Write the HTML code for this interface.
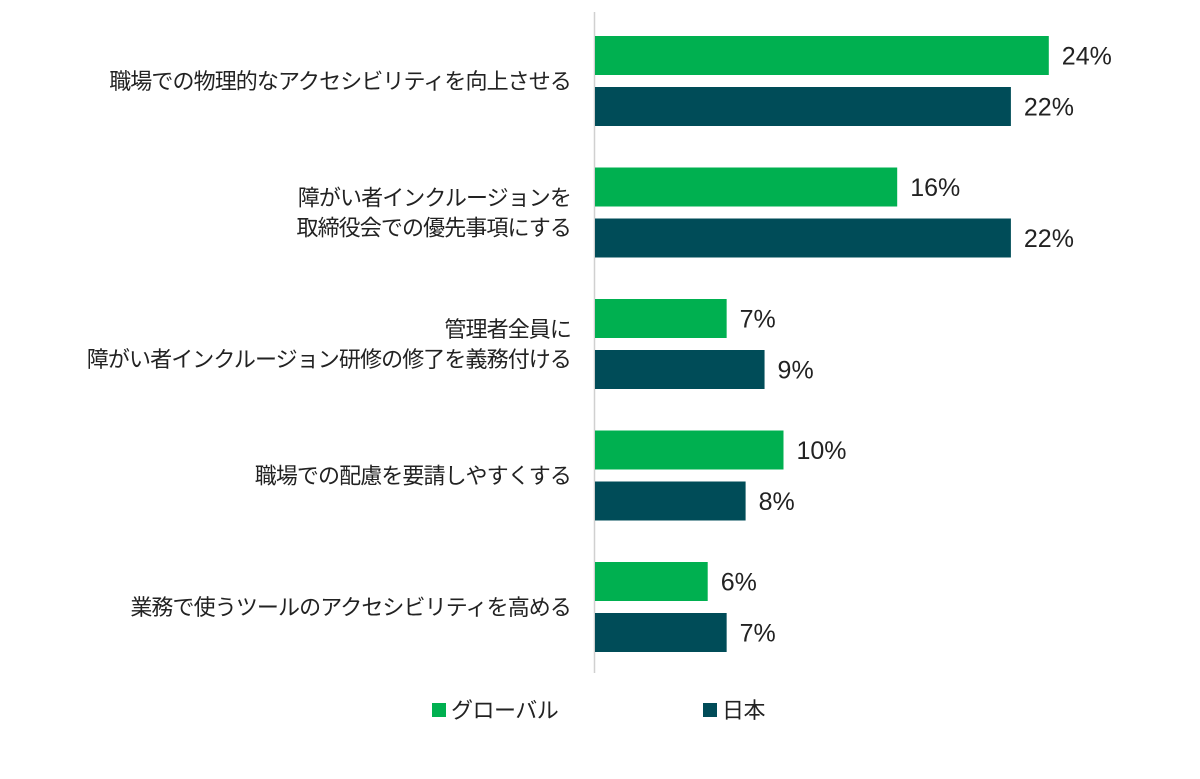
<!DOCTYPE html>
<html><head><meta charset="utf-8"><style>
body{margin:0;background:#fff;}
svg{display:block;font-family:"Liberation Sans","Noto Sans CJK JP",sans-serif;}
</style></head><body>
<svg id="chart" width="1200" height="779">
<line x1="594.5" y1="12" x2="594.5" y2="673" stroke="#d0d0d0" stroke-width="1.5"/>
<g id="bars"></g>
<g>
<rect x="432" y="703" width="14" height="14" fill="#00b050"/>
<text x="451" y="718" font-size="22" letter-spacing="-0.5" fill="#222">グローバル</text>
<rect x="703" y="703" width="14" height="14" fill="#004c58"/>
<text x="722" y="718" font-size="22" letter-spacing="-0.5" fill="#222">日本</text>
</g>
</svg>
<script>
const categories=[["職場での物理的なアクセシビリティを向上させる"],["障がい者インクルージョンを","取締役会での優先事項にする"],["管理者全員に","障がい者インクルージョン研修の修了を義務付ける"],["職場での配慮を要請しやすくする"],["業務で使うツールのアクセシビリティを高める"]];
const globalValues=[24,16,7,10,6];
const japanValues=[22,22,9,8,7];
const x0=594,scale=18.95,groupTop=36,groupStep=131.5,barH=39,gap=51;
const xs=v=>x0+v*scale;
const g=document.getElementById('bars');
const NS='http://www.w3.org/2000/svg';
function mk(t,a){const e=document.createElementNS(NS,t);for(const k in a)e.setAttribute(k,a[k]);return e;}
categories.forEach((lines,i)=>{
  const top=groupTop+i*groupStep;
  [[globalValues[i],'#00b050','global'],[japanValues[i],'#004c58','japan']].forEach(([v,c,s],j)=>{
    const y=top+j*gap;
    const r=mk('rect',{x:x0+1,y:y,width:xs(v)-x0-1,height:barH,fill:c});
    
    
    g.appendChild(r);
    const t=mk('text',{x:xs(v)+13,y:y+barH/2+9,'font-size':25,fill:'#222'});
    t.textContent=v+'%';
    
    
    g.appendChild(t);
  });
  const cy=top+(gap+barH)/2;
  const lh=30;
  lines.forEach((ln,k)=>{
    const y=cy-(lines.length-1)*lh/2+k*lh+8;
    const t=mk('text',{x:571,y:y,'font-size':22,'letter-spacing':-0.9,fill:'#222','text-anchor':'end'});
    t.textContent=ln;
    
    
    g.appendChild(t);
  });
});
</script>
</body></html>
